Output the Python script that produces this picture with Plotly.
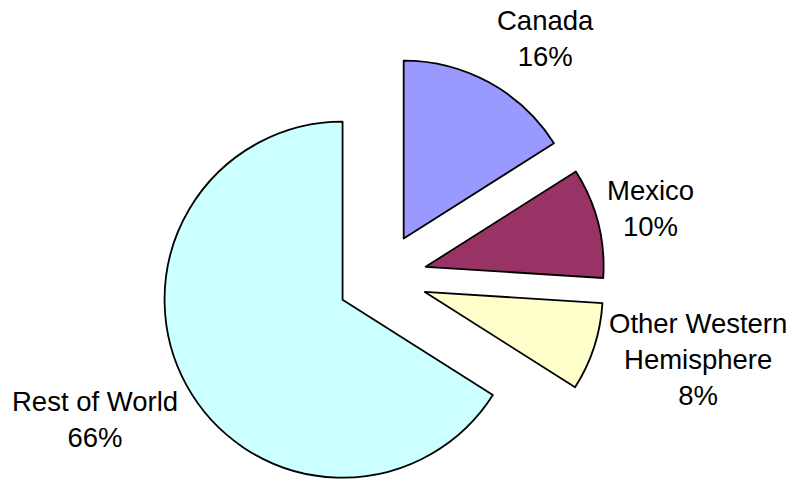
import math
import plotly.graph_objects as go

# ---- data ----
categories = ["Canada", "Mexico", "Other Western Hemisphere", "Rest of World"]
display_labels = ["Canada", "Mexico", "Other Western<br>Hemisphere", "Rest of World"]
shares = [16, 10, 8, 66]
colors = ["#9999FF", "#993366", "#FFFFCC", "#CCFFFF"]

# ---- layout geometry (pixels of the 793x481 figure) ----
W, H = 793, 481
R = 178                  # pie radius in px
CX, CY = 382, 278        # common pie centre (px)
EXPLODE = 45             # explode distance in px
# label block centres (px), one per slice
label_centres = [(545, 38), (650, 208), (698, 359), (95, 419)]
FONT = dict(family="Liberation Sans, Arial, sans-serif", size=27.5, color="black")

total = float(sum(shares))
fig = go.Figure()
cum = 0.0
n = len(shares)
for i, v in enumerate(shares):
    mid = (cum + v / 2.0) / total * 2 * math.pi
    cum += v
    vx = CX + EXPLODE * math.sin(mid)
    vy = CY - EXPLODE * math.cos(mid)
    fill = [c if j == i else "rgba(0,0,0,0)" for j, c in enumerate(colors)]
    lw = [1.8 if j == i else 0 for j in range(n)]
    fig.add_trace(go.Pie(
        labels=categories,
        values=shares,
        sort=False,
        direction="clockwise",
        rotation=0,
        marker=dict(colors=fill, line=dict(color="black", width=lw)),
        textinfo="none",
        hoverinfo="skip",
        showlegend=False,
        domain=dict(x=[(vx - R) / W, (vx + R) / W],
                    y=[1 - (vy + R) / H, 1 - (vy - R) / H]),
    ))

annotations = []
for lab, v, (lx, ly) in zip(display_labels, shares, label_centres):
    annotations.append(dict(
        text=f"{lab}<br>{v / total:.0%}",
        xref="paper", yref="paper",
        x=lx / W, y=1 - ly / H,
        xanchor="center", yanchor="middle",
        showarrow=False, align="center", font=FONT,
    ))

fig.update_layout(
    width=W, height=H,
    margin=dict(l=0, r=0, t=0, b=0),
    paper_bgcolor="white",
    plot_bgcolor="white",
    showlegend=False,
    annotations=annotations,
)

fig.write_html("out.html", config={"displayModeBar": False},
               post_script="document.body.style.margin='0';")
